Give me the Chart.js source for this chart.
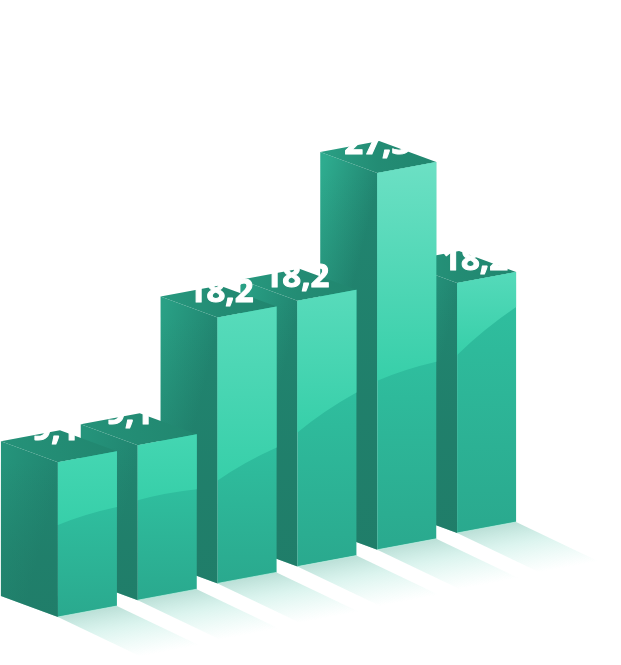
<!DOCTYPE html>
<html>
<head>
<meta charset="utf-8">
<script src="https://cdn.jsdelivr.net/npm/chart.js@4/dist/chart.umd.min.js"></script>
<style>
  html, body { margin: 0; padding: 0; background: #fff; }
  canvas { display: block; }
</style>
</head>
<body>
<canvas id="bars" width="621" height="665"></canvas>
<script>
const categories = ['1', '2', '3', '4', '5', '6'];
// heights as drawn: the last bar is printed 18,2 but drawn shorter in the picture
const seriesValues = [9.1, 9.1, 18.2, 18.2, 27.3, 16.9];
const valueLabels = ['9,1', '9,1', '18,2', '18,2', '27,3', '18,2'];

const AXIS_MIN = -3.6;
const AXIS_MAX = 47;

// box geometry, px
const FLOOR_RISE = 16.8;
const LEFT_W = 57, LEFT_RISE = 21;
const RIGHT_W = 59, RIGHT_RISE = 11;
const SHADOW_DX = 88, SHADOW_DY = 42;
// label position relative to the front top corner
const labelLift = [22, 21, 16, 14, 19, 13];
const labelShift = [-2, -8, 3, -1, 0, 18];
// where the gloss ends on the right face, px above the front/right bottom corners
const glossFront = [92, 100, 103, 134, 169, 178];
const glossRight = [99, 100, 125, 163, 177, 215];

function mix(a, b, t) {
  const c = a.map((v, i) => Math.round(v + (b[i] - v) * t));
  return `rgb(${c[0]},${c[1]},${c[2]})`;
}

function poly(ctx, pts) {
  ctx.beginPath();
  pts.forEach((p, i) => i ? ctx.lineTo(p[0], p[1]) : ctx.moveTo(p[0], p[1]));
  ctx.closePath();
}

function drawShadow(ctx, x, y) {
  const rx = x + RIGHT_W, ry = y - RIGHT_RISE;
  const mx = x + RIGHT_W / 2, my = y - RIGHT_RISE / 2;
  // fade straight away from the foot of the bar
  const g = ctx.createLinearGradient(mx, my, mx + 10, my + 53);
  g.addColorStop(0, 'rgba(30,150,122,0.30)');
  g.addColorStop(0.4, 'rgba(60,195,165,0.18)');
  g.addColorStop(1, 'rgba(90,220,190,0)');
  ctx.fillStyle = g;
  poly(ctx, [[x, y], [rx, ry], [rx + SHADOW_DX, ry + SHADOW_DY], [x + SHADOW_DX, y + SHADOW_DY]]);
  ctx.fill();
}

function drawBox(ctx, x, top, bottom, i) {
  const h = bottom - top;
  const tall = (h - 155) / 222;
  const lx = x - LEFT_W, rx = x + RIGHT_W;

  // left face: darkens towards the front edge, a little more towards the foot
  const leftFace = [[lx, top - LEFT_RISE], [x, top], [x, bottom], [lx, bottom - LEFT_RISE]];
  let g = ctx.createLinearGradient(lx, top, x, top + 14);
  g.addColorStop(0, mix([37, 148, 123], [46, 172, 143], tall));
  g.addColorStop(1, '#218570');
  ctx.fillStyle = g;
  poly(ctx, leftFace);
  ctx.fill();
  g = ctx.createLinearGradient(0, top, 0, bottom);
  g.addColorStop(0, 'rgba(30,115,96,0)');
  g.addColorStop(0.6, 'rgba(30,115,96,0.32)');
  g.addColorStop(1, 'rgba(30,115,96,0.42)');
  ctx.fillStyle = g;
  poly(ctx, leftFace);
  ctx.fill();

  // top face
  g = ctx.createLinearGradient(lx, top, rx, top);
  g.addColorStop(0, mix([37, 146, 121], [42, 160, 133], tall));
  g.addColorStop(0.5, '#238c74');
  g.addColorStop(1, '#21866f');
  ctx.fillStyle = g;
  poly(ctx, [[lx, top - LEFT_RISE], [x, top], [rx, top - RIGHT_RISE], [rx - LEFT_W, top - LEFT_RISE - RIGHT_RISE]]);
  ctx.fill();

  const gy0 = bottom - glossFront[i], gy1 = bottom - RIGHT_RISE - glossRight[i];

  // right face, lower part
  g = ctx.createLinearGradient(0, Math.min(gy0, gy1), 0, bottom);
  g.addColorStop(0, '#2fbe9e');
  g.addColorStop(1, '#2aa98e');
  ctx.fillStyle = g;
  poly(ctx, [[x, top], [rx, top - RIGHT_RISE], [rx, bottom - RIGHT_RISE], [x, bottom]]);
  ctx.fill();

  // right face, gloss
  g = ctx.createLinearGradient(0, top - RIGHT_RISE, 0, Math.max(gy0, gy1));
  g.addColorStop(0, mix([68, 214, 178], [108, 224, 196], tall));
  g.addColorStop(1, '#37cfa9');
  ctx.fillStyle = g;
  ctx.beginPath();
  ctx.moveTo(x, top);
  ctx.lineTo(rx, top - RIGHT_RISE);
  ctx.lineTo(rx, gy1);
  ctx.quadraticCurveTo(x + RIGHT_W * 0.45, (gy0 + gy1) / 2 - 2, x, gy0);
  ctx.closePath();
  ctx.fill();

  // thin light edge along the foot
  ctx.strokeStyle = 'rgba(190,240,225,0.7)';
  ctx.lineWidth = 1;
  ctx.beginPath();
  ctx.moveTo(x, bottom);
  ctx.lineTo(rx, bottom - RIGHT_RISE);
  ctx.stroke();
}

const isoBoxes = {
  id: 'isoBoxes',
  afterDatasetsDraw(chart) {
    const ctx = chart.ctx;
    const bars = chart.getDatasetMeta(0).data;
    const rise = i => FLOOR_RISE * i;
    ctx.save();
    bars.forEach((bar, i) => drawShadow(ctx, bar.x, bar.base - rise(i)));
    // far bars first, the nearer ones cover them
    for (let i = bars.length - 1; i >= 0; i--) {
      drawBox(ctx, bars[i].x, bars[i].y - rise(i), bars[i].base - rise(i), i);
    }
    ctx.fillStyle = '#fff';
    ctx.strokeStyle = '#fff';
    ctx.lineWidth = 1;
    ctx.lineJoin = 'round';
    ctx.font = 'bold 33px "Open Sans"';
    ctx.textAlign = 'center';
    ctx.textBaseline = 'alphabetic';
    bars.forEach((bar, i) => {
      const tx = bar.x + labelShift[i], ty = bar.y - rise(i) - labelLift[i];
      ctx.strokeText(valueLabels[i], tx, ty);
      ctx.fillText(valueLabels[i], tx, ty);
    });
    ctx.restore();
  }
};

new Chart(document.getElementById('bars'), {
  type: 'bar',
  data: {
    labels: categories,
    datasets: [{
      data: seriesValues,
      base: AXIS_MIN,
      backgroundColor: 'transparent',
      categoryPercentage: 1,
      barPercentage: 1
    }]
  },
  options: {
    responsive: false,
    animation: false,
    layout: { padding: { left: 18, right: 124, top: 0, bottom: 48 } },
    scales: {
      x: { display: false },
      y: { display: false, min: AXIS_MIN, max: AXIS_MAX }
    },
    plugins: {
      legend: { display: false },
      tooltip: { enabled: false }
    }
  },
  plugins: [isoBoxes]
});
</script>
</body>
</html>
